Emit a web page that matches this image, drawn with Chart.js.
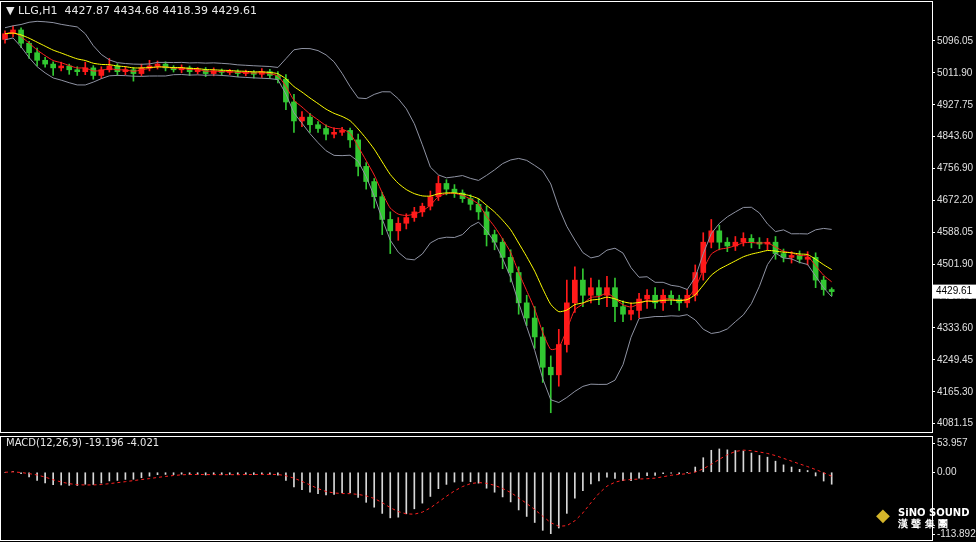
<!DOCTYPE html>
<html>
<head>
<meta charset="utf-8">
<script src="https://cdn.jsdelivr.net/npm/chart.js@4.4.1/dist/chart.umd.min.js"></script>
<style>
  body { margin: 0; background: #000; width: 976px; height: 542px; overflow: hidden; position: relative; font-family: Tahoma, "DejaVu Sans", sans-serif; }
  canvas { position: absolute; left: 0; }
  #main { top: 0; }
  #macd { top: 435px; }
  .lbl { position: absolute; color: #e8e8e8; font-size: 11px; font-family: "DejaVu Sans", sans-serif; }
  #logo { position: absolute; left: 876px; top: 507px; color: #fff; font: bold 10px "DejaVu Sans", sans-serif; line-height: 11px; }
</style>
</head>
<body>
<canvas id="main" width="976" height="434"></canvas>
<canvas id="macd" width="976" height="107"></canvas>
<div class="lbl" style="left:6px;top:4px;">&#9660; LLG,H1&nbsp; 4427.87 4434.68 4418.39 4429.61</div>
<div class="lbl" style="left:6px;top:437px;font-size:10px;">MACD(12,26,9) -19.196 -4.021</div>
<div id="logo"><span style="color:#d4b52a;font-size:18px;position:absolute;left:0;top:2px;">&#9670;</span><div style="margin-left:22px;">SiNO SOUND<br>漢 聲 集 團</div></div>
<script>
// hourly closes, one per bar
var closes = [5110,5120,5085,5060,5040,5030,5020,5025,5015,5010,5020,5000,5015,5025,5010,5015,5005,5020,5025,5030,
  5020,5015,5020,5010,5015,5005,5012,5008,5010,5005,5008,5003,5010,5000,4990,4930,4880,4890,4870,4860,
  4845,4850,4855,4830,4760,4720,4680,4620,4590,4610,4625,4640,4655,4680,4715,4700,4690,4675,4660,4640,
  4580,4560,4520,4480,4400,4360,4310,4230,4210,4290,4400,4460,4420,4440,4420,4440,4390,4370,4380,4410,
  4420,4400,4420,4410,4400,4420,4480,4560,4590,4560,4550,4560,4570,4560,4555,4560,4530,4520,4525,4515,
  4520,4460,4435,4429.61];
var firstOpen = 5095;
var upWick = [8,10,6,5,12,8,6,10,5,8,15,6,8,20,6,8,6,10,15,8,
  6,6,8,5,6,6,8,5,6,5,6,5,8,6,10,12,20,15,10,8,
  10,12,8,6,15,10,8,12,20,15,10,12,8,15,20,10,12,8,10,15,
  15,12,10,20,15,20,30,25,30,40,60,35,30,25,20,30,25,15,20,15,
  15,20,15,12,10,15,20,25,30,15,12,15,15,10,12,10,15,12,10,12,
  15,12,10,4.68];
var downWick = [10,8,12,15,15,8,20,8,12,10,8,10,8,6,10,8,20,6,8,8,
  8,6,8,10,6,8,6,8,6,8,6,10,8,8,10,20,30,15,20,10,
  15,10,8,20,25,20,30,40,60,25,15,10,12,10,10,15,12,10,15,20,
  30,20,30,25,30,20,30,40,100,30,20,25,30,20,25,30,40,20,15,20,
  25,15,20,15,20,12,15,20,15,20,15,12,10,15,12,15,15,12,15,10,
  15,20,15,11.22];
var priceTicks = [4081.15,4165.30,4249.45,4333.60,4417.75,4501.90,4586.05,4670.20,4754.35,4838.50,4922.65,5006.80,5090.95];
var tickText = ['4081.15','4165.30','4249.45','4333.60','4417.75','4501.90','4588.05','4672.20','4756.90','4843.60','4927.75','5011.90','5096.05'];
var totalSlots = 116;

var labels = [];
for (var i = 0; i < totalSlots; i++) labels.push(i);
var opens = closes.map(function (c, i) { return i === 0 ? firstOpen : closes[i - 1]; });
var bodies = closes.map(function (c, i) { return [opens[i], c]; });
var wicks = closes.map(function (c, i) { return [Math.min(opens[i], c) - downWick[i], Math.max(opens[i], c) + upWick[i]]; });
var candleColor = closes.map(function (c, i) { return c >= opens[i] ? '#ff1a1a' : '#32c832'; });

function sma(arr, n) {
  return arr.map(function (v, i) {
    var k0 = Math.max(0, i - n + 1), s = 0;
    for (var k = k0; k <= i; k++) s += arr[k]; return s / (i - k0 + 1);
  });
}
function ema(arr, n) {
  var a = 2 / (n + 1), out = [], prev = arr[0];
  arr.forEach(function (v) { prev = a * v + (1 - a) * prev; out.push(prev); });
  return out;
}
var mid = sma(closes, 10);
var upper = [], lower = [];
closes.forEach(function (v, i) {
  var k0 = Math.max(0, i - 9), s = 0;
  for (var k = k0; k <= i; k++) s += Math.pow(closes[k] - mid[i], 2);
  var sd = Math.max(Math.sqrt(s / (i - k0 + 1)), 8);
  upper.push(mid[i] + 2 * sd); lower.push(mid[i] - 2 * sd);
});
var maYellow = ema(closes, 10);
var maRed = ema(closes, 4);

var whiteFrame = {
  id: 'frame',
  afterDraw: function (chart) {
    var c = chart.ctx, a = chart.chartArea;
    c.save(); c.strokeStyle = '#fff'; c.lineWidth = 1;
    c.strokeRect(0.5, 1.5, a.right, chart.height - 3);
    c.restore();
  }
};
var priceBox = {
  id: 'priceBox',
  afterDraw: function (chart) {
    var y = chart.scales.y.getPixelForValue(closes[closes.length - 1]);
    var c = chart.ctx, x = chart.chartArea.right + 1;
    c.save(); c.fillStyle = '#fff'; c.fillRect(x, y - 7, 44, 14);
    c.fillStyle = '#000'; c.font = '10px "Liberation Sans"'; c.textBaseline = 'middle';
    c.fillText('4429.61', x + 3, y); c.restore();
  }
};
var axisFont = { size: 10, family: 'Liberation Sans' };

new Chart(document.getElementById('main'), {
  data: {
    labels: labels,
    datasets: [
      { type: 'line', data: upper, borderColor: '#8f93a3', borderWidth: 1, pointRadius: 0, tension: 0 },
      { type: 'line', data: lower, borderColor: '#8f93a3', borderWidth: 1, pointRadius: 0, tension: 0 },
      { type: 'line', data: maYellow, borderColor: '#ffff00', borderWidth: 1, pointRadius: 0, tension: 0.2 },
      { type: 'line', data: maRed, borderColor: '#ff2020', borderWidth: 1, pointRadius: 0, tension: 0.2 },
      { type: 'bar', data: wicks, backgroundColor: candleColor, barThickness: 1, grouped: false },
      { type: 'bar', data: bodies, backgroundColor: candleColor, barThickness: 5, minBarLength: 1, grouped: false }
    ]
  },
  options: {
    responsive: false, animation: false, devicePixelRatio: 1,
    layout: { padding: { top: 2, bottom: 2, left: 1 } },
    plugins: { legend: { display: false }, tooltip: { enabled: false } },
    scales: {
      x: { display: false, offset: true },
      y: {
        position: 'right', min: 4075, max: 5178,
        afterBuildTicks: function (s) { s.ticks = priceTicks.map(function (v) { return { value: v }; }); },
        afterFit: function (s) { s.width = 44; },
        ticks: { color: '#e0e0e0', font: axisFont, padding: 2,
          callback: function (v, i) { return tickText[i]; } },
        grid: { drawOnChartArea: false, color: '#fff', tickLength: 3 },
        border: { color: '#fff' }
      }
    }
  },
  plugins: [whiteFrame, priceBox]
});

var fast = ema(closes, 6), slow = ema(closes, 13);
var macdLine = fast.map(function (v, i) { return v - slow[i]; });
var signal = sma(macdLine, 5);

new Chart(document.getElementById('macd'), {
  data: {
    labels: labels,
    datasets: [
      { type: 'line', data: signal, borderColor: '#ff2020', borderWidth: 1, borderDash: [3, 3], pointRadius: 0 },
      { type: 'bar', data: macdLine, backgroundColor: '#d8d8d8', barThickness: 1 }
    ]
  },
  options: {
    responsive: false, animation: false, devicePixelRatio: 1,
    layout: { padding: { top: 4, bottom: 3, left: 1 } },
    plugins: { legend: { display: false }, tooltip: { enabled: false } },
    scales: {
      x: { display: false, offset: true },
      y: {
        position: 'right', min: -113.892, max: 53.957,
        afterBuildTicks: function (s) { s.ticks = [{ value: -113.892 }, { value: 0 }, { value: 53.957 }]; },
        afterFit: function (s) { s.width = 44; },
        ticks: { color: '#e0e0e0', font: axisFont, padding: 2,
          callback: function (v) { return v === 0 ? '0.00' : v.toFixed(3); } },
        grid: { drawOnChartArea: false, color: '#fff', tickLength: 3 },
        border: { color: '#fff' }
      }
    }
  },
  plugins: [whiteFrame]
});
</script>
</body>
</html>
